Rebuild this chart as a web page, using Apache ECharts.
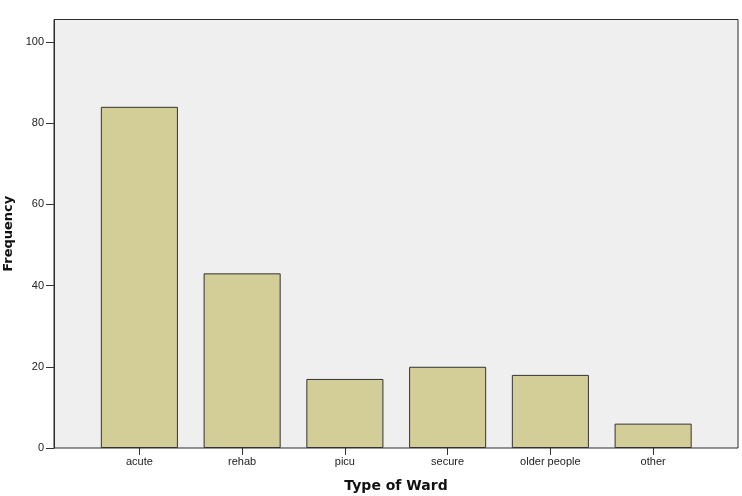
<!DOCTYPE html>
<html>
<head>
<meta charset="utf-8">
<script src="https://cdn.jsdelivr.net/npm/echarts@6/dist/echarts.min.js"></script>
<style>
    html, body { margin: 0; padding: 0; background: #fff; }
    #chart { width: 742px; height: 496px; }
</style>
</head>
<body>
<div id="chart"></div>
<script>
    // data
    var wardTypes = ['acute', 'rehab', 'picu', 'secure', 'older people', 'other'];
    var frequency = [84, 43, 17, 20, 18, 6];
    var yTicks = [0, 20, 40, 60, 80, 100];

    var chart = echarts.init(document.getElementById('chart'));
    var font = 'Liberation Sans, Arial, sans-serif';
    var titleFont = 'DejaVu Sans, sans-serif';
    var yMax = 105.5;

    var option = {
        animation: false,
        textStyle: { fontFamily: font },
        grid: [
            // frame + grey plot background
            {
                left: 54, right: 4, top: 19.5, bottom: 48,
                containLabel: false,
                outerBoundsMode: 'none',
                show: true,
                backgroundColor: '#efefef',
                borderColor: '#2b2b2b',
                borderWidth: 1
            },
            // bars sit in a narrower band, as in the original
            { left: 88, right: 37.5, top: 19.5, bottom: 48, containLabel: false, outerBoundsMode: 'none' }
        ],
        xAxis: [{
            gridIndex: 0,
            type: 'value',
            min: 0, max: 1,
            axisLine: { show: false },
            axisTick: { show: false },
            axisLabel: { show: false },
            splitLine: { show: false },
            name: 'Type of Ward',
            nameLocation: 'middle',
            nameGap: 31,
            nameTextStyle: { fontSize: 14, fontWeight: 'bold', color: '#111', fontFamily: titleFont, verticalAlign: 'top' }
        }, {
            gridIndex: 1,
            type: 'category',
            data: wardTypes,
            axisLine: { show: false },
            axisTick: { show: true, alignWithLabel: true, length: 7, lineStyle: { color: '#333' } },
            axisLabel: { color: '#222', fontSize: 11, margin: 8, interval: 0 }
        }],
        yAxis: [{
            gridIndex: 0,
            type: 'value',
            min: 0, max: yMax,
            axisLine: { show: true, lineStyle: { color: '#2b2b2b' } },
            axisTick: { show: true, length: 8, customValues: yTicks, lineStyle: { color: '#333' } },
            axisLabel: { color: '#222', fontSize: 11, margin: 10, customValues: yTicks },
            splitLine: { show: false },
            name: 'Frequency',
            nameLocation: 'middle',
            nameGap: 39,
            nameTextStyle: { fontSize: 13, fontWeight: 'bold', color: '#111', fontFamily: titleFont }
        }, {
            gridIndex: 1,
            type: 'value',
            min: 0, max: yMax,
            show: false
        }],
        series: [{
            type: 'bar',
            xAxisIndex: 1,
            yAxisIndex: 1,
            data: frequency,
            barCategoryGap: '25%',
            itemStyle: {
                color: '#d3ce98',
                borderColor: '#333',
                borderWidth: 1
            }
        }]
    };

    chart.setOption(option);
</script>
</body>
</html>
